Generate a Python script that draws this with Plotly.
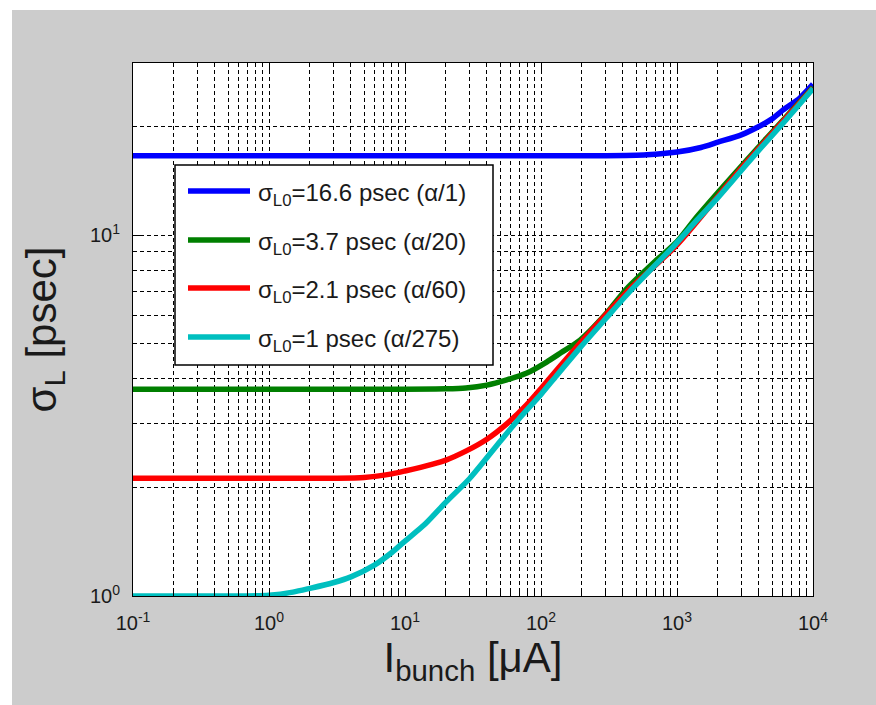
import plotly.graph_objects as go

# ---------------- data ----------------
I_blue = [0.1, 1, 10, 100, 300, 600, 1000, 1500, 2000, 3000, 4000, 5000, 6000, 8000, 10000]
sigma_blue = [16.6, 16.6, 16.6, 16.6, 16.6, 16.7, 17.0, 17.5, 18.1, 19.0, 20.0, 21.0, 22.2, 24.0, 26.2]

I_green = [0.1, 1, 10, 20, 28, 40, 56, 78, 110, 140, 194, 300, 426, 700, 1000, 1400, 3000, 10000]
sigma_green = [3.74, 3.74, 3.74, 3.75, 3.77, 3.84, 3.97, 4.14, 4.45, 4.72, 5.12, 6.05, 7.1, 8.5, 9.6, 11.25, 15.6, 25.7]

I_red = [0.1, 1, 3, 5, 8, 10, 16, 20, 28, 40, 56, 78, 100, 130, 194, 300, 450, 1000, 3000, 10000]
sigma_red = [2.12, 2.12, 2.12, 2.13, 2.18, 2.22, 2.32, 2.38, 2.52, 2.72, 3.0, 3.38, 3.76, 4.22, 5.02, 6.02, 7.1, 9.4, 15.4, 25.55]

I_cyan = [0.1, 0.5, 1, 1.5, 2, 3, 4, 6, 8, 10, 14, 20, 30, 50, 70, 100, 130, 194, 300, 450, 700, 940, 1400, 2000, 2580, 4000, 6000, 10000]
sigma_cyan = [1.0, 1.0, 1.005, 1.025, 1.05, 1.09, 1.13, 1.22, 1.32, 1.42, 1.58, 1.82, 2.12, 2.68, 3.12, 3.62, 4.08, 4.88, 5.88, 6.98, 8.3, 9.3, 11.0, 12.7, 14.2, 17.2, 20.4, 25.5]

series_labels = [
    "σ<sub>L0</sub>=16.6 psec (α/1)",
    "σ<sub>L0</sub>=3.7 psec (α/20)",
    "σ<sub>L0</sub>=2.1 psec (α/60)",
    "σ<sub>L0</sub>=1 psec (α/275)",
]
series_colors = ["#0000ff", "#007f00", "#ff0000", "#00bfbf"]

x_tick_vals = [0.1, 1, 10, 100, 1000, 10000]
x_tick_text = ["10<sup>-1</sup>", "10<sup>0</sup>", "10<sup>1</sup>", "10<sup>2</sup>", "10<sup>3</sup>", "10<sup>4</sup>"]
y_tick_vals = [1, 10]
y_tick_text = ["10<sup>0</sup>", "10<sup>1</sup>"]

x_minor_vals = [k * 10.0 ** e for e in range(-1, 4) for k in range(2, 10)]
y_minor_vals = [2, 3, 4, 5, 6, 7, 8, 9, 20]

# ---------------- layout geometry ----------------
W, H = 876, 705
ML, MR, MT, MB = 133, 63, 63, 109
PW, PH = W - ML - MR, H - MT - MB


def px_x(px):
    return (px - ML) / PW


def px_y(py):
    return (MT + PH - py) / PH


FONT = "Liberation Sans, Arial, Helvetica, sans-serif"
TXT = "#1a1a1a"

fig = go.Figure()
all_x = [I_blue, I_green, I_red, I_cyan]
all_y = [sigma_blue, sigma_green, sigma_red, sigma_cyan]
for xs, ys, name, col in zip(all_x, all_y, series_labels, series_colors):
    fig.add_trace(go.Scatter(
        x=xs, y=ys, mode="lines", name=name,
        line=dict(color=col, width=5.5, shape="spline", smoothing=0.7),
        showlegend=False,
    ))

grid_common = dict(
    showgrid=True, gridcolor="black", gridwidth=1, griddash="4px,3px",
    showline=True, linecolor="black", linewidth=1, mirror="ticks",
    ticks="inside", ticklen=7, tickcolor="black", tickwidth=1,
    zeroline=False,
)

fig.update_xaxes(
    type="log", range=[-1, 4],
    tickmode="array", tickvals=x_tick_vals, ticktext=x_tick_text,
    tickfont=dict(family=FONT, size=20, color=TXT),
    ticklabelstandoff=9,
    minor=dict(tickmode="array", tickvals=x_minor_vals, ticks="inside", ticklen=4,
               tickcolor="black", showgrid=True, gridcolor="black", gridwidth=1,
               griddash="4px,3px"),
    title=dict(text="I<sub>bunch</sub> [μA]", font=dict(family=FONT, size=42, color=TXT), standoff=4),
    **grid_common,
)
fig.update_yaxes(
    type="log", range=[0, 1.4771],
    tickmode="array", tickvals=y_tick_vals, ticktext=y_tick_text,
    tickfont=dict(family=FONT, size=20, color=TXT),
    ticklabelstandoff=8,
    minor=dict(tickmode="array", tickvals=y_minor_vals, ticks="inside", ticklen=4,
               tickcolor="black", showgrid=True, gridcolor="black", gridwidth=1,
               griddash="4px,3px"),
    title=dict(text="σ<sub>L</sub> [psec]", font=dict(family=FONT, size=42, color=TXT), standoff=20),
    **grid_common,
)

shapes = []
annotations = []

# white frame strips at the left and top edge of the picture
shapes.append(dict(type="rect", xref="paper", yref="paper", layer="above",
                   x0=px_x(0), x1=px_x(12), y0=px_y(H), y1=px_y(0),
                   fillcolor="white", line=dict(width=0)))
shapes.append(dict(type="rect", xref="paper", yref="paper", layer="above",
                   x0=px_x(0), x1=px_x(W), y0=px_y(10), y1=px_y(0),
                   fillcolor="white", line=dict(width=0)))

# legend box
shapes.append(dict(type="rect", xref="paper", yref="paper", layer="above",
                   x0=px_x(175), x1=px_x(493), y0=px_y(365), y1=px_y(165),
                   fillcolor="white", line=dict(color="black", width=1.5)))
item_y = [191, 240, 288, 337]
for yy, name, col in zip(item_y, series_labels, series_colors):
    shapes.append(dict(type="line", xref="paper", yref="paper", layer="above",
                       x0=px_x(188), x1=px_x(250), y0=px_y(yy), y1=px_y(yy),
                       line=dict(color=col, width=5.5)))
    annotations.append(dict(xref="paper", yref="paper", x=px_x(256), y=px_y(yy + 3),
                            xanchor="left", yanchor="middle", showarrow=False,
                            text=name, font=dict(family=FONT, size=24, color=TXT)))

fig.update_layout(
    width=W, height=H,
    margin=dict(l=ML, r=MR, t=MT, b=MB, autoexpand=False),
    paper_bgcolor="#cccccc", plot_bgcolor="white",
    shapes=shapes, annotations=annotations,
    showlegend=False,
)

fig.write_html(
    "out.html",
    config={"displayModeBar": False},
    post_script="document.body.style.margin='0px';document.body.style.overflow='hidden';",
)
